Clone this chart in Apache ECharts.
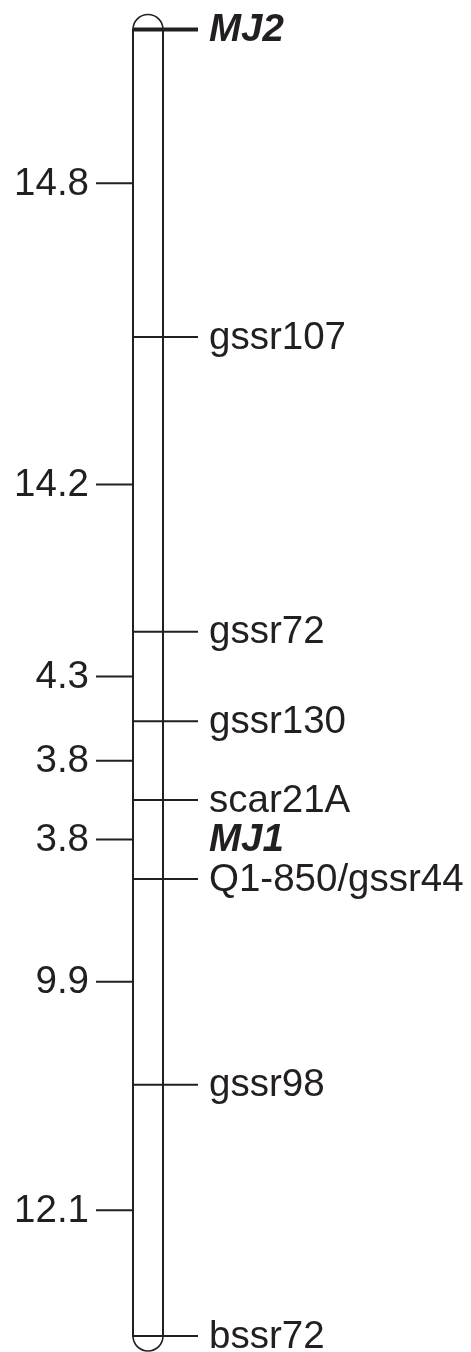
<!DOCTYPE html>
<html>
<head>
<meta charset="utf-8">
<script src="https://cdn.jsdelivr.net/npm/echarts@6/dist/echarts.min.js"></script>
<style>
  html, body { margin: 0; padding: 0; background: #fff; }
  #main { width: 471px; height: 1352px; }
</style>
</head>
<body>
<div id="main"></div>
<script>
// markers along the linkage group, position in cM from the top
var markerNames = ['MJ2', 'gssr107', 'gssr72', 'gssr130', 'scar21A', 'Q1-850/gssr44', 'gssr98', 'bssr72'];
var markerPos = [0, 14.8, 29.0, 33.3, 37.1, 40.9, 50.8, 62.9];
// distances written on the left, between neighbouring markers
var intervalLabels = ['14.8', '14.2', '4.3', '3.8', '3.8', '9.9', '12.1'];
// gene placed without a tick of its own
var geneNames = ['MJ1'];
var genePos = [39.0];
var boldNames = ['MJ2', 'MJ1'];

var lineColor = '#231f20';
var fontFamily = '"Liberation Sans", Arial, sans-serif';
var fontSize = 38.5;
var halfW = 15;

var intervalMid = intervalLabels.map(function (l, i) {
  return (markerPos[i] + markerPos[i + 1]) / 2;
});

function textStyle(name, align) {
  var bold = boldNames.indexOf(name) >= 0;
  return {
    text: name,
    fill: lineColor,
    font: (bold ? 'italic bold ' : '') + fontSize + 'px ' + fontFamily,
    align: align,
    verticalAlign: 'middle'
  };
}

var chart = echarts.init(document.getElementById('main'));

var option = {
  animation: false,
  grid: { left: 133, width: 30, top: 29.5, bottom: 16 },
  xAxis: { type: 'category', data: ['LG'], show: false },
  yAxis: { type: 'value', inverse: true, min: 0, max: markerPos[markerPos.length - 1], show: false },
  series: [
    {
      // chromosome body with round ends
      type: 'custom',
      clip: false,
      z: 1,
      data: [[0, markerPos[0], markerPos[markerPos.length - 1]]],
      renderItem: function (params, api) {
        var top = api.coord([api.value(0), api.value(1)]);
        var bot = api.coord([api.value(0), api.value(2)]);
        var cx = top[0];
        return {
          type: 'group',
          children: [
            {
              type: 'rect',
              shape: { x: cx - halfW, y: top[1], width: halfW * 2, height: bot[1] - top[1] },
              style: { fill: '#fff', stroke: lineColor, lineWidth: 2 }
            },
            {
              type: 'arc',
              shape: { cx: cx, cy: top[1], r: halfW, startAngle: Math.PI, endAngle: Math.PI * 2, clockwise: true },
              style: { fill: null, stroke: lineColor, lineWidth: 1.6 }
            },
            {
              type: 'arc',
              shape: { cx: cx, cy: bot[1], r: halfW, startAngle: 0, endAngle: Math.PI, clockwise: true },
              style: { fill: null, stroke: lineColor, lineWidth: 1.6 }
            }
          ]
        };
      }
    },
    {
      // marker ticks and names on the right
      type: 'custom',
      clip: false,
      z: 2,
      data: markerPos.map(function (p, i) { return [0, p, i]; }),
      renderItem: function (params, api) {
        var pt = api.coord([api.value(0), api.value(1)]);
        var name = markerNames[api.value(2)];
        var bold = boldNames.indexOf(name) >= 0;
        return {
          type: 'group',
          children: [
            {
              type: 'line',
              shape: { x1: pt[0] - halfW, y1: pt[1], x2: pt[0] + 50, y2: pt[1] },
              style: { stroke: lineColor, lineWidth: bold ? 4 : 2 }
            },
            {
              type: 'text',
              x: pt[0] + 61,
              y: pt[1] + 1,
              style: textStyle(name, 'left')
            }
          ]
        };
      }
    },
    {
      // gene label without tick
      type: 'custom',
      clip: false,
      z: 2,
      data: genePos.map(function (p, i) { return [0, p, i]; }),
      renderItem: function (params, api) {
        var pt = api.coord([api.value(0), api.value(1)]);
        return {
          type: 'text',
          x: pt[0] + 61,
          y: pt[1] + 1,
          style: textStyle(geneNames[api.value(2)], 'left')
        };
      }
    },
    {
      // interval distances on the left
      type: 'custom',
      clip: false,
      z: 2,
      data: intervalMid.map(function (p, i) { return [0, p, i]; }),
      renderItem: function (params, api) {
        var pt = api.coord([api.value(0), api.value(1)]);
        return {
          type: 'group',
          children: [
            {
              type: 'line',
              shape: { x1: pt[0] - 52, y1: pt[1], x2: pt[0] - halfW, y2: pt[1] },
              style: { stroke: lineColor, lineWidth: 2 }
            },
            {
              type: 'text',
              x: pt[0] - 59,
              y: pt[1] + 1,
              style: textStyle(intervalLabels[api.value(2)], 'right')
            }
          ]
        };
      }
    }
  ]
};

chart.setOption(option);
</script>
</body>
</html>
